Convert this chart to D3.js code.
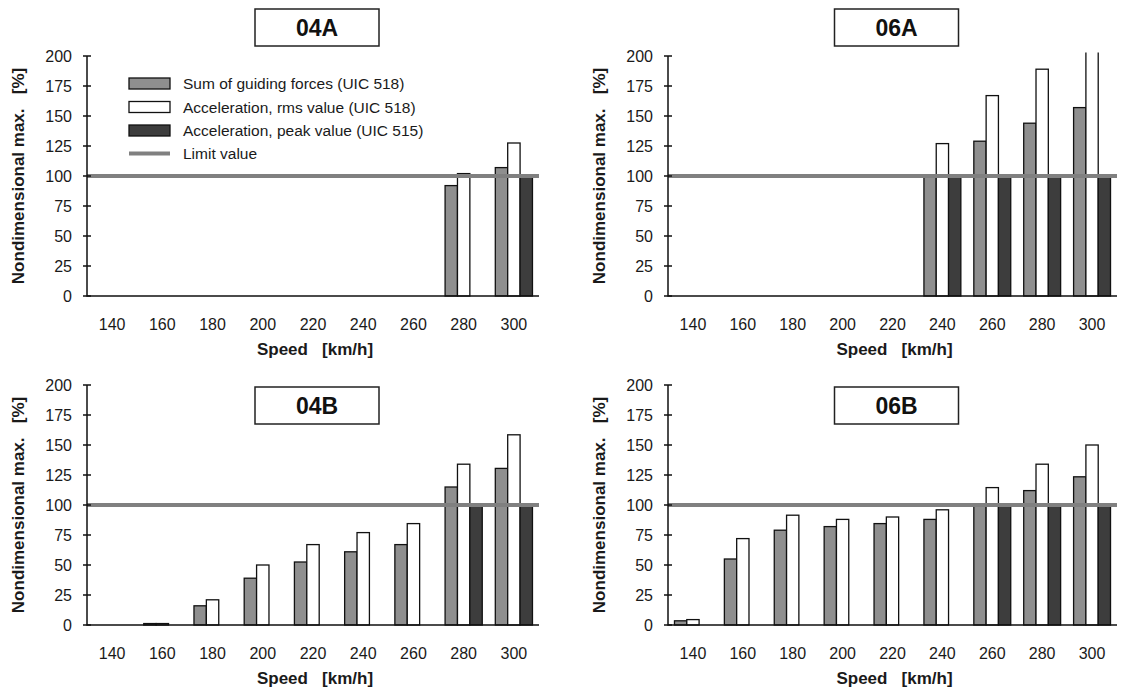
<!DOCTYPE html>
<meta charset="utf-8">
<style>
html, body {
  margin: 0;
  background: #fff;
}

.chart {
  font-family: "Liberation Sans", Arial, Helvetica, sans-serif;
}

.chart .tick-label {
  font-size: 16px;
  fill: #1a1a1a;
}

.chart .axis-title {
  font-size: 17px;
  font-weight: bold;
  fill: #1a1a1a;
}

.chart .panel-title {
  font-size: 23px;
  font-weight: bold;
  fill: #111;
}

.chart .legend-text {
  font-size: 15.5px;
  fill: #1a1a1a;
}

.chart .bar {
  stroke: #111;
  stroke-width: 1.3;
}

.chart .axis-line {
  stroke: #111;
  stroke-width: 1.5;
  fill: none;
}

.chart .limit {
  stroke: #808080;
  stroke-width: 4;
}
</style>
<body>
<svg class="chart" width="1121" height="688"></svg>

<script src="https://d3js.org/d3.v7.min.js"></script>
<script type="text/javascript">
"use strict";

// categories
var speeds = [140, 160, 180, 200, 220, 240, 260, 280, 300];
var yTicks = [0, 25, 50, 75, 100, 125, 150, 175, 200];
var limitValue = 100;

var seriesNames = [
  "Sum of guiding forces (UIC 518)",
  "Acceleration, rms value (UIC 518)",
  "Acceleration, peak value (UIC 515)"
];
var seriesColors = ["#8f8f8f", "#ffffff", "#3d3d3d"];

// values per panel (0 = no bar)
var sum04A  = [0, 0, 0, 0, 0, 0, 0, 92, 107];
var rms04A  = [0, 0, 0, 0, 0, 0, 0, 102, 127.5];
var peak04A = [0, 0, 0, 0, 0, 0, 0, 0, 100];

var sum06A  = [0, 0, 0, 0, 0, 100, 129, 144, 157];
var rms06A  = [0, 0, 0, 0, 0, 127, 167, 189, 230];
var peak06A = [0, 0, 0, 0, 0, 100, 100, 100, 100];

var sum04B  = [0, 1.2, 16, 39, 52.5, 61, 67, 115, 130.5];
var rms04B  = [0, 1.2, 21, 50, 67, 77, 84.5, 134, 158.5];
var peak04B = [0, 0, 0, 0, 0, 0, 0, 100, 100];

var sum06B  = [3.5, 55, 79, 82, 84.5, 88, 100, 112, 123.5];
var rms06B  = [4.5, 72, 91.5, 88, 90, 96, 114.5, 134, 150];
var peak06B = [0, 0, 0, 0, 0, 0, 100, 100, 100];

var panels = [
  { title: "04A", series: [sum04A, rms04A, peak04A], left: 87, right: 539, bottom: 296, legend: true },
  { title: "06A", series: [sum06A, rms06A, peak06A], left: 668, right: 1117, bottom: 296, legend: false },
  { title: "04B", series: [sum04B, rms04B, peak04B], left: 87, right: 539, bottom: 625, legend: false, boxInside: true },
  { title: "06B", series: [sum06B, rms06B, peak06B], left: 668, right: 1117, bottom: 625, legend: false, boxInside: true }
];

var plotHeight = 240;

var svg = d3.select(".chart");

panels.forEach(function(p, pi) {
  var x = d3.scaleBand()
    .domain(speeds)
    .range([p.left, p.right])
    .paddingInner(0.26)
    .paddingOuter(0.13);

  var xs = d3.scaleBand()
    .domain(d3.range(seriesNames.length))
    .range([0, x.bandwidth()]);

  var y = d3.scaleLinear()
    .domain([0, 200])
    .range([p.bottom, p.bottom - plotHeight]);

  var g = svg.append("g");

  var clipId = "clip" + pi;
  g.append("clipPath")
    .attr("id", clipId)
    .append("rect")
    .attr("x", p.left)
    .attr("y", y(203))
    .attr("width", p.right - p.left)
    .attr("height", y(0) - y(203) + 2);

  // bars
  var bars = [];
  p.series.forEach(function(vals, si) {
    vals.forEach(function(v, ci) {
      if (v > 0) bars.push({ s: si, speed: speeds[ci], v: v });
    });
  });

  g.append("g")
    .attr("clip-path", "url(#" + clipId + ")")
    .selectAll("rect")
    .data(bars)
    .join("rect")
    .attr("class", "bar")
    .attr("x", function(d) { return x(d.speed) + xs(d.s); })
    .attr("y", function(d) { return y(d.v); })
    .attr("width", xs.bandwidth())
    .attr("height", function(d) { return y(0) - y(d.v); })
    .attr("fill", function(d) { return seriesColors[d.s]; });

  // limit line
  g.append("line")
    .attr("class", "limit")
    .attr("x1", p.left)
    .attr("x2", p.right)
    .attr("y1", y(limitValue))
    .attr("y2", y(limitValue));

  // axes
  g.append("path")
    .attr("class", "axis-line")
    .attr("d", "M" + p.left + "," + y(200) + "V" + y(0) + "H" + p.right);

  g.selectAll(".ytick")
    .data(yTicks)
    .join("line")
    .attr("class", "axis-line")
    .attr("x1", p.left - 4)
    .attr("x2", p.left + 4)
    .attr("y1", function(d) { return y(d); })
    .attr("y2", function(d) { return y(d); });

  g.selectAll(".ylabel")
    .data(yTicks)
    .join("text")
    .attr("class", "tick-label")
    .attr("text-anchor", "end")
    .attr("x", p.left - 15)
    .attr("y", function(d) { return y(d) + 6; })
    .text(function(d) { return d; });

  g.selectAll(".xlabel")
    .data(speeds)
    .join("text")
    .attr("class", "tick-label")
    .attr("text-anchor", "middle")
    .attr("x", function(d) { return x(d) + x.bandwidth() / 2; })
    .attr("y", y(0) + 34)
    .text(function(d) { return d; });

  var cx = (p.left + p.right) / 2;

  g.append("text")
    .attr("class", "axis-title")
    .attr("text-anchor", "middle")
    .attr("x", cx + 2)
    .attr("y", y(0) + 59)
    .attr("xml:space", "preserve")
    .text("Speed   [km/h]");

  g.append("text")
    .attr("class", "axis-title")
    .attr("text-anchor", "middle")
    .attr("transform", "translate(" + (p.left - 63) + "," + y(100) + ") rotate(-90)")
    .attr("xml:space", "preserve")
    .text("Nondimensional max.   [%]");

  // title box
  var boxY = p.boxInside ? y(200) + 2 : 9;
  g.append("rect")
    .attr("x", cx + 4 - 62)
    .attr("y", boxY)
    .attr("width", 124)
    .attr("height", 37)
    .attr("fill", "#fff")
    .attr("stroke", "#222")
    .attr("stroke-width", 1.5);

  g.append("text")
    .attr("class", "panel-title")
    .attr("text-anchor", "middle")
    .attr("x", cx + 4)
    .attr("y", boxY + 27)
    .text(p.title);

  if (p.legend) {
    var lg = g.append("g").attr("transform", "translate(129,78)");
    seriesNames.forEach(function(name, i) {
      lg.append("rect")
        .attr("x", 0)
        .attr("y", i * 23.5)
        .attr("width", 41)
        .attr("height", 11)
        .attr("fill", seriesColors[i])
        .attr("stroke", "#111")
        .attr("stroke-width", 1.3);
      lg.append("text")
        .attr("class", "legend-text")
        .attr("x", 54)
        .attr("y", i * 23.5 + 11)
        .text(name);
    });
    lg.append("line")
      .attr("class", "limit")
      .attr("x1", 0)
      .attr("x2", 41)
      .attr("y1", 3 * 23.5 + 5)
      .attr("y2", 3 * 23.5 + 5);
    lg.append("text")
      .attr("class", "legend-text")
      .attr("x", 54)
      .attr("y", 3 * 23.5 + 10)
      .text("Limit value");
  }
});
</script>
</body>
